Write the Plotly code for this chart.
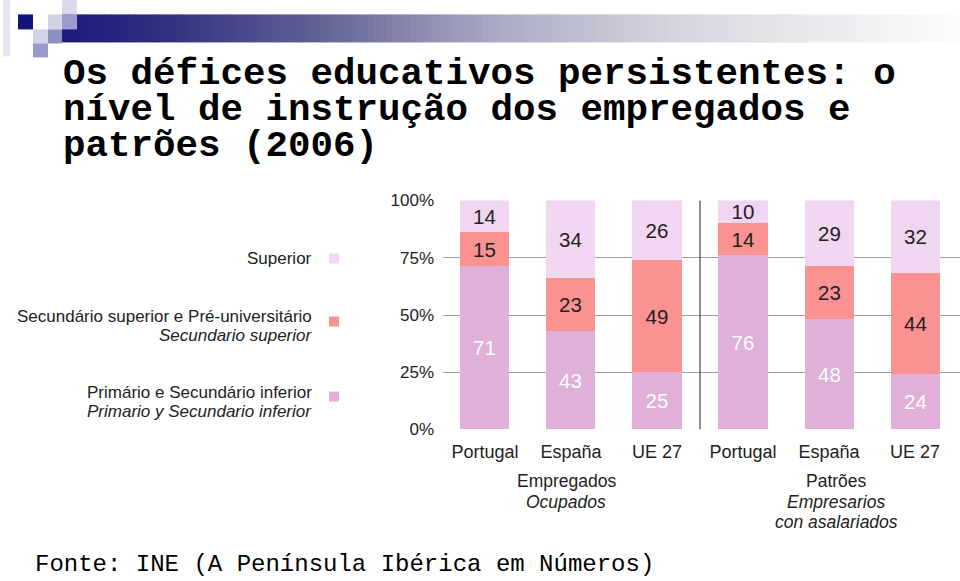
import plotly.graph_objects as go

W, H = 960, 581

# data (percent of workers by education level, 2006)
categories = ['Portugal', 'España', 'UE 27', 'Portugal', 'España', 'UE 27']
primario = [71, 43, 25, 76, 48, 24]
secundario = [15, 23, 49, 14, 23, 44]
superior = [14, 34, 26, 10, 29, 32]

level_names = ['Primário e Secundário inferior', 'Secundário superior e Pré-universitário', 'Superior']
level_names_es = ['Primario y Secundario inferior', 'Secundario superior', None]
level_colors = ['#e0b0d8', '#fa9292', '#f0d6f0']
level_text_colors = ['white', '#222222', '#222222']

groups = ['Empregados', 'Patrões']
groups_es = [['Ocupados'], ['Empresarios', 'con asalariados']]

y_ticks = [0, 25, 50, 75, 100]
y_ticklabels = ['%d%%' % v for v in y_ticks]

SANS = 'Liberation Sans, Arial, sans-serif'
MONO = 'Liberation Mono, Courier New, monospace'

# the captured page comes out slightly squashed vertically, compensate
Y_SQUASH = 0.967


def px(x):
    return x / W


def py(y):
    y = H / 2 + (y - H / 2) / Y_SQUASH
    return 1 - y / H


def mix(c1, c2, t):
    return tuple(round(a + (b - a) * t) for a, b in zip(c1, c2))


def header_shapes():
    shapes = []
    # gradient band: dark navy on the left fading to white
    stops = [(62, (28, 28, 125)), (150, (45, 45, 128)), (308, (95, 95, 148)),
             (492, (170, 170, 196)), (677, (214, 214, 224)), (862, (240, 240, 243)),
             (960, (253, 253, 253))]
    step = 6
    x = 62
    while x < W:
        for (x0, c0), (x1, c1) in zip(stops[:-1], stops[1:]):
            if x0 <= x < x1:
                c = mix(c0, c1, (x - x0) / (x1 - x0))
                break
        shapes.append(dict(type='rect', xref='paper', yref='paper',
                           x0=px(x), x1=px(min(x + step + 0.5, W)), y0=py(43), y1=py(15),
                           fillcolor='rgb(%d,%d,%d)' % c, line_width=0, layer='below'))
        x += step

    squares = [
        (3, 0, 10, 57, '#e6e6f1'),
        (18, 15, 33, 30, '#14147c'),
        (48, 15, 62, 30, '#d2d2e7'),
        (62, 0, 77, 15, '#dadaec'),
        (62, 15, 77, 30, '#9c9ccc'),
        (33, 30, 48, 44, '#d2d2e8'),
        (48, 30, 62, 44, '#8e8ebf'),
        (33, 44, 48, 58, '#9a9ac8'),
    ]
    for x0, y0, x1, y1, col in squares:
        shapes.append(dict(type='rect', xref='paper', yref='paper',
                           x0=px(x0), x1=px(x1), y0=py(y1), y1=py(y0),
                           fillcolor=col, line_width=0, layer='below'))
    return shapes


def text_line(text, x, y, size, family=SANS, anchor='right', color='#222222'):
    return dict(text=text, xref='paper', yref='paper', x=px(x), y=py(y),
                xanchor=anchor, yanchor='middle', showarrow=False,
                font={'family': family, 'size': size, 'color': color})


fig = go.Figure()

x_pos = list(range(len(categories)))
for values, name, color, tcolor in zip([primario, secundario, superior], level_names,
                                       level_colors, level_text_colors):
    fig.add_trace(go.Bar(
        x=x_pos,
        y=values,
        name=name,
        width=0.57,
        marker={'color': color, 'line': {'width': 0}},
        text=[str(v) for v in values],
        textposition='inside',
        insidetextanchor='middle',
        textangle=0,
        constraintext='none',
        textfont={'family': SANS, 'size': 20.5, 'color': tcolor},
        hoverinfo='y+name',
    ))

shapes = header_shapes()

# separator between employees and employers
shapes.append(dict(type='line', xref='x', yref='y', x0=2.5, x1=2.5, y0=0, y1=100,
                   line={'color': '#444444', 'width': 1.2}))

annotations = []
title_lines = ['Os défices educativos persistentes: o',
               'nível de instrução dos empregados e',
               'patrões (2006)']
for i, line in enumerate(title_lines):
    annotations.append(text_line('<b>%s</b>' % line, 61, 75 + 36 * i, 37.5, MONO, 'left', 'black'))

annotations.append(text_line('Fonte: INE (A Península Ibérica em Números)', 33, 565, 24, MONO, 'left', 'black'))

# legend drawn by hand on the left
legend_y = [393, 317, 259]
marker_y = [397, 322, 259]
for name, name_es, color, ly, my in zip(level_names, level_names_es, level_colors, legend_y, marker_y):
    annotations.append(text_line(name, 314, ly, 17))
    if name_es is not None:
        annotations.append(text_line('<i>%s</i>' % name_es, 314, ly + 19, 17))
    shapes.append(dict(type='rect', xref='paper', yref='paper',
                       x0=px(329), x1=px(339), y0=py(my + 5), y1=py(my - 5),
                       fillcolor=color, line_width=0))

# group labels under the categories
for name, name_es, gx in zip(groups, groups_es, [566, 836]):
    annotations.append(text_line(name, gx, 481, 17.5, anchor='center'))
    for j, line in enumerate(name_es):
        annotations.append(text_line('<i>%s</i>' % line, gx, 502 + 20.5 * j, 17.5, anchor='center'))

fig.update_layout(
    autosize=True,
    barmode='stack',
    bargap=0,
    showlegend=False,
    margin={'l': 0, 'r': 0, 't': 0, 'b': 0},
    paper_bgcolor='white',
    plot_bgcolor='white',
    uniformtext={'minsize': 20.5, 'mode': 'show'},
    shapes=shapes,
    annotations=annotations,
    xaxis={
        'domain': [px(443), 1],
        'range': [-0.488, 5.523],
        'tickvals': x_pos,
        'ticktext': categories,
        'showgrid': False,
        'zeroline': False,
        'showline': False,
        'ticks': '',
        'ticklabelstandoff': 9,
        'tickfont': {'family': SANS, 'size': 18, 'color': '#222222'},
        'fixedrange': True,
    },
    yaxis={
        'domain': [py(430), py(201)],
        'range': [0, 100],
        'tickvals': y_ticks,
        'ticktext': y_ticklabels,
        'showgrid': True,
        'gridcolor': '#a0a0a0',
        'gridwidth': 1,
        'zeroline': False,
        'showline': False,
        'ticks': '',
        'ticklabelstandoff': 8,
        'tickfont': {'family': SANS, 'size': 17, 'color': '#222222'},
        'fixedrange': True,
    },
)

fig.write_html(
    "out.html",
    config={'displayModeBar': False},
    default_width='100vw',
    default_height='100vh',
    post_script="document.body.style.margin='0';document.body.style.overflow='hidden';"
                "Plotly.Plots.resize(document.getElementById('{plot_id}'));",
)
